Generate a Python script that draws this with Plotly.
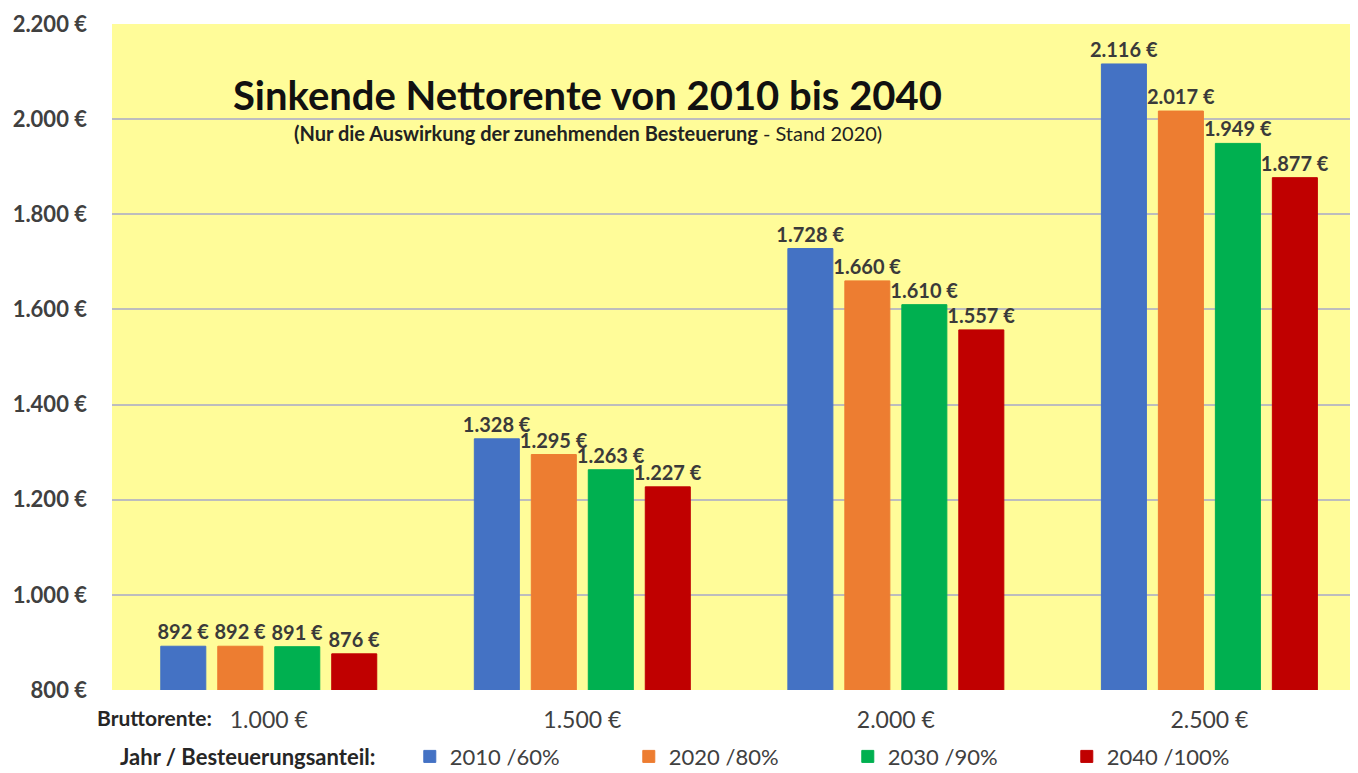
import plotly.graph_objects as go

categories = ["1.000 €", "1.500 €", "2.000 €", "2.500 €"]
series_names = ["2010 /60%", "2020 /80%", "2030 /90%", "2040 /100%"]
values_2010 = [892, 1328, 1728, 2116]
values_2020 = [892, 1295, 1660, 2017]
values_2030 = [891, 1263, 1610, 1949]
values_2040 = [876, 1227, 1557, 1877]
colors = ["#4472C4", "#ED7D31", "#00B050", "#C00000"]
y_ticks = [800, 1000, 1200, 1400, 1600, 1800, 2000, 2200]

FONT = "Lato"
fig = go.Figure()
for name, vals, col in zip(series_names, [values_2010, values_2020, values_2030, values_2040], colors):
    fig.add_trace(go.Bar(
        x=categories, y=vals, name=name,
        marker=dict(color=col, line=dict(color=col, width=1)),
        texttemplate="%{y:,.0f} €", textposition="outside",
        constraintext="none", cliponaxis=False,
        textfont=dict(family=FONT, size=20, color="#3a3a3a", weight="bold"),
    ))

# The page body has an 8px margin, so the figure is sized to fit the window.
fig.update_layout(
    width=1350, height=765,
    separators=",.",
    barmode="group", bargap=0.273, bargroupgap=0.21,
    paper_bgcolor="white", plot_bgcolor="#FFFC99",
    margin=dict(l=104, r=0, t=16, b=83, autoexpand=False),
    font=dict(family=FONT),
    showlegend=True,
    legend=dict(orientation="h", x=0.239, xanchor="left", y=-0.1, yanchor="middle",
                entrywidth=174, entrywidthmode="pixels",
                font=dict(family=FONT, size=22, color="#404040"),
                bgcolor="rgba(0,0,0,0)", traceorder="normal"),
    xaxis=dict(range=[-0.5, 3.474], showgrid=False, showline=False, zeroline=False,
               ticks="", ticklabelstandoff=14,
               tickfont=dict(family=FONT, size=23, color="#404040")),
    yaxis=dict(range=[800, 2200], tickvals=y_ticks,
               ticktext=[f"{v:,}".replace(",", ".") + " €" for v in y_ticks],
               showgrid=True, gridcolor="#BDBDBD", gridwidth=2, zeroline=False,
               showline=False, ticks="", ticklabelstandoff=24,
               tickfont=dict(family=FONT, size=22, color="#404040", weight="bold")),
    annotations=[
        dict(text="<b>Sinkende Nettorente von 2010 bis 2040</b>", xref="paper", yref="paper",
             x=0.382, y=0.893, xanchor="center", yanchor="middle", showarrow=False,
             font=dict(family=FONT, size=40, color="#111111")),
        dict(text="<b>(Nur die Auswirkung der zunehmenden Besteuerung</b> - Stand 2020)",
             xref="paper", yref="paper", x=0.382, y=0.836, xanchor="center", yanchor="middle",
             showarrow=False, font=dict(family=FONT, size=20, color="#222222")),
        dict(text="<b>Bruttorente:</b>", xref="paper", yref="paper", x=-0.0136, y=-0.042,
             xanchor="left", yanchor="middle", showarrow=False,
             font=dict(family=FONT, size=21, color="#262626")),
        dict(text="<b>Jahr / Besteuerungsanteil:</b>", xref="paper", yref="paper", x=0.005, y=-0.1,
             xanchor="left", yanchor="middle", showarrow=False,
             font=dict(family=FONT, size=22, color="#262626")),
    ],
)

fig.write_html("out.html")
